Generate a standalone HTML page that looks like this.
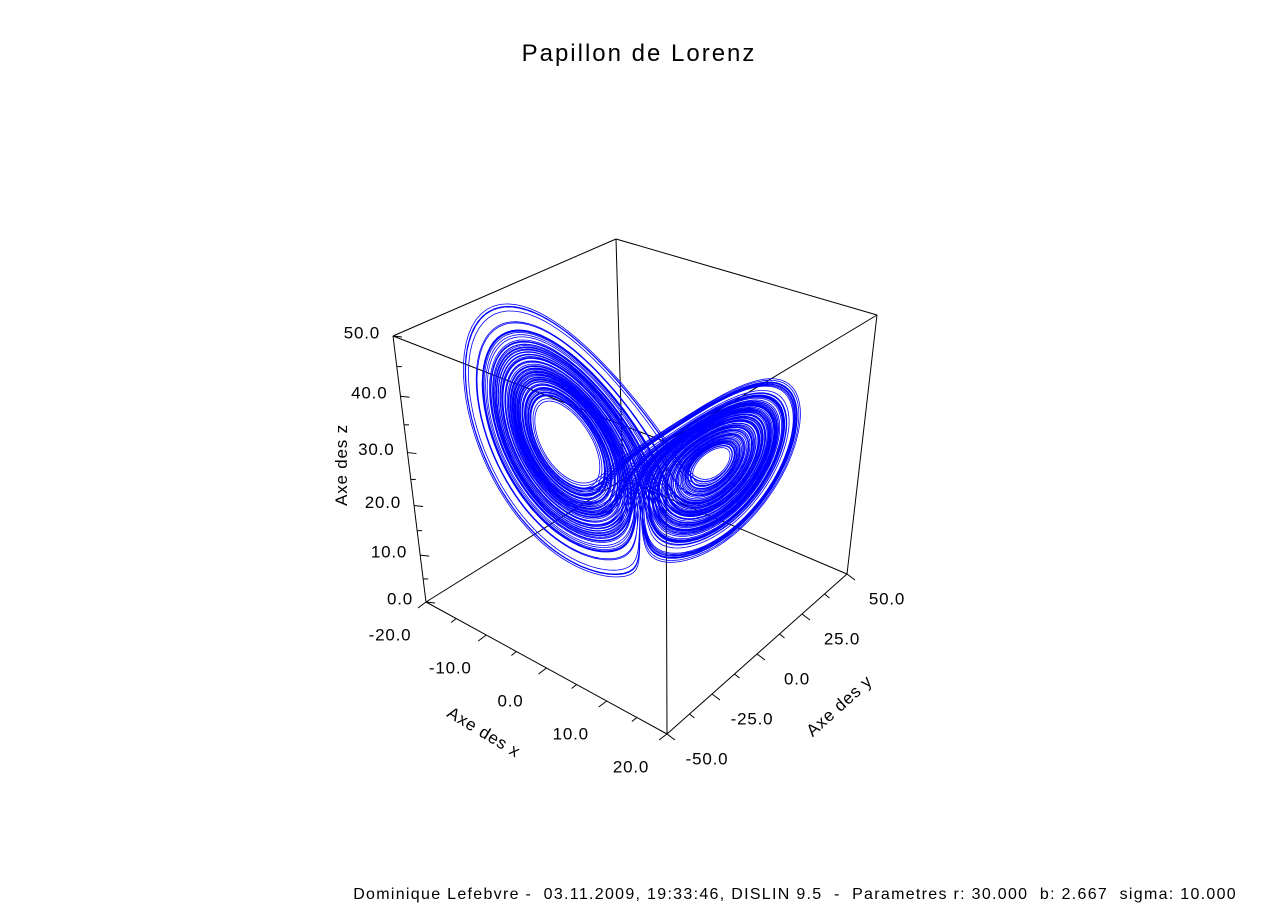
<!DOCTYPE html>
<html><head><meta charset="utf-8"><style>
body{margin:0;background:#fff;}
svg{display:block;font-family:"Liberation Sans",sans-serif;}
</style></head><body>
<svg id="chart" width="1279" height="904" viewBox="0 0 1279 904">
<rect width="1279" height="904" fill="#fff"/>
<text x="639" y="61" font-size="24" text-anchor="middle" letter-spacing="2">Papillon de Lorenz</text>
<g id="box" stroke="#000" stroke-width="1" fill="none"></g>
<path id="traj" fill="none" stroke="#0000ff" stroke-width="0.8"/>
<g id="ticks" stroke="#000" stroke-width="1"></g>
<g id="labels" font-size="17" letter-spacing="0.8"></g>
<text font-size="17" text-anchor="middle" transform="translate(347,465) rotate(-90)" letter-spacing="0.8">Axe des z</text>
<text font-size="17" text-anchor="middle" transform="translate(481,737) rotate(31)" letter-spacing="0.8">Axe des x</text>
<text font-size="17" text-anchor="middle" transform="translate(843,710) rotate(-42)" letter-spacing="0.8">Axe des y</text>
<text x="1237" y="899" font-size="16" text-anchor="end" letter-spacing="1.3" xml:space="preserve">Dominique Lefebvre -  03.11.2009, 19:33:46, DISLIN 9.5  -  Parametres r: 30.000  b: 2.667  sigma: 10.000</text>
</svg>
<script>
// Lorenz system parameters (data)
const lorenzParams = [10.0, 30.0, 2.667]; // sigma, r, b
const initialState = [1.0, 1.0, 20.0];
const timeSpan = [0, 140];
const xTicks = [-20, -10, 0, 10, 20];
const yTicks = [-50, -25, 0, 25, 50];
const zTicks = [0, 10, 20, 30, 40, 50];

const XR=[-20,20], YR=[-50,50], ZR=[0,50];
const C={
 '000':[426,602],'100':[667,734],'110':[847,574],'010':[623,479],
 '001':[393,336],'101':[666,442],'111':[877,315],'011':[616,239]};
function P(x,y,z){
  const u=(x-XR[0])/(XR[1]-XR[0]), v=(y-YR[0])/(YR[1]-YR[0]);
  let w=(z-ZR[0])/(ZR[1]-ZR[0]);
  w=w/(w+1.17*(1-w));
  let px=0,py=0;
  for(const a of [0,1])for(const b of [0,1])for(const c of [0,1]){
    const wt=(a?u:1-u)*(b?v:1-v)*(c?w:1-w);
    const p=C[''+a+b+c]; px+=wt*p[0]; py+=wt*p[1];
  }
  return [px,py];
}
const NS='http://www.w3.org/2000/svg';
function line(g,a,b,name){
  const l=document.createElementNS(NS,'line');
  l.setAttribute('x1',a[0]);l.setAttribute('y1',a[1]);l.setAttribute('x2',b[0]);l.setAttribute('y2',b[1]);
  
  
  g.appendChild(l);
}
const box=document.getElementById('box');
[['000','100'],['100','110'],['110','010'],['010','000'],['001','101'],['101','111'],['111','011'],['011','001'],
 ['000','001'],['100','101'],['110','111'],['010','011']].forEach(e=>line(box,C[e[0]],C[e[1]],'box-edge'));

const sg=lorenzParams[0], r=lorenzParams[1], b=lorenzParams[2];
function f(s){return [sg*(s[1]-s[0]), s[0]*(r-s[2])-s[1], s[0]*s[1]-b*s[2]];}
let s=initialState.slice(); const dt=0.005;
const steps=Math.round((timeSpan[1]-timeSpan[0])/dt);
let d='';
for(let i=0;i<steps+600;i++){
  const k1=f(s), s2=s.map((v,j)=>v+dt/2*k1[j]), k2=f(s2), s3=s.map((v,j)=>v+dt/2*k2[j]), k3=f(s3),
        s4=s.map((v,j)=>v+dt*k3[j]), k4=f(s4);
  s=s.map((v,j)=>v+dt/6*(k1[j]+2*k2[j]+2*k3[j]+k4[j]));
  if(i<600) continue;
  const p=P(s[0],s[1],s[2]);
  d+=(d?'L':'M')+p[0].toFixed(1)+' '+p[1].toFixed(1);
}
document.getElementById('traj').setAttribute('d',d);

const tg=document.getElementById('ticks'), lg=document.getElementById('labels');
function label(txt,x,y,anchor,name){
  const t=document.createElementNS(NS,'text');
  t.setAttribute('x',x);t.setAttribute('y',y);t.setAttribute('text-anchor',anchor);
  t.setAttribute('dominant-baseline','middle');
  
  
  t.textContent=txt; lg.appendChild(t);
}
zTicks.forEach(z=>{const p=P(-20,-50,z); line(tg,p,[p[0]+9,p[1]+1],'z-tick'); label(z.toFixed(1),p[0]-13,p[1]-2,'end','z-tick-label');});
for(let z=5;z<50;z+=10){const p=P(-20,-50,z); line(tg,p,[p[0]+5,p[1]],'z-minor-tick');}
xTicks.forEach(x=>{const p=P(x,-50,0); line(tg,p,[p[0]-8,p[1]+6],'x-tick'); label(x.toFixed(1),p[0]-36,p[1]+34,'middle','x-tick-label');});
for(let x=-15;x<20;x+=10){const p=P(x,-50,0); line(tg,p,[p[0]-5,p[1]+4],'x-minor-tick');}
yTicks.forEach(y=>{const p=P(20,y,0); line(tg,p,[p[0]+8,p[1]+6],'y-tick'); label(y.toFixed(1),p[0]+40,p[1]+26,'middle','y-tick-label');});
for(let y=-37.5;y<50;y+=25){const p=P(20,y,0); line(tg,p,[p[0]+5,p[1]+4],'y-minor-tick');}
</script>
</body></html>
